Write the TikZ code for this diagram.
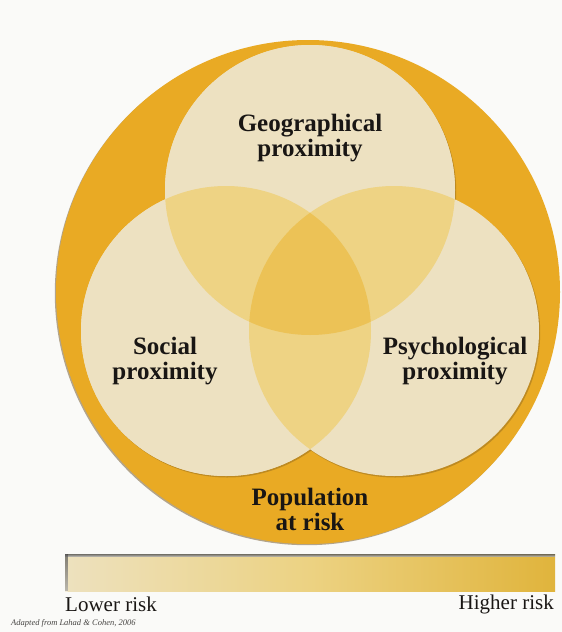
\documentclass[tikz,border=0pt]{standalone}
\usepackage{fontspec}
\setmainfont{Liberation Serif}
\usetikzlibrary{shadows}
\definecolor{bg}{RGB}{250,250,248}
\definecolor{orng}{RGB}{233,170,36}
\definecolor{beige}{RGB}{237,225,193}
\definecolor{pair}{RGB}{238,211,132}
\definecolor{triple}{RGB}{236,194,86}
\definecolor{barL}{RGB}{237,225,190}
\definecolor{barM}{RGB}{236,210,130}
\definecolor{barR}{RGB}{224,180,60}
\definecolor{ink}{RGB}{25,22,20}
\definecolor{shade}{RGB}{110,80,30}
\begin{document}
\begin{tikzpicture}[x=1pt,y=-1pt,
  lbl/.style={font=\fontsize{25}{25}\selectfont\bfseries, align=center, text=ink, inner sep=0pt},
  risk/.style={font=\fontsize{21}{23}\selectfont, text=ink, inner sep=0pt},
  venn/.style={fill=beige, drop shadow={opacity=0.35, fill=shade, shadow xshift=1.2pt, shadow yshift=-1.5pt}}]
\fill[bg] (0,0) rectangle (562,632);
\useasboundingbox (0,0) rectangle (562,632);
% population circle
\fill[orng, drop shadow={opacity=0.5, fill=shade, shadow xshift=-1.2pt, shadow yshift=-1.2pt}] (308,292) circle[radius=252pt];
% three circles
\fill[venn] (310,190) circle[radius=145pt];
\fill[venn] (226,331) circle[radius=145pt];
\fill[venn] (394,331) circle[radius=145pt];
\fill[beige] (310,190) circle[radius=145pt];
\fill[beige] (226,331) circle[radius=145pt];
% pairwise overlaps
\begin{scope}
  \clip (310,190) circle[radius=145pt];
  \fill[pair] (226,331) circle[radius=145pt];
  \fill[pair] (394,331) circle[radius=145pt];
\end{scope}
\begin{scope}
  \clip (226,331) circle[radius=145pt];
  \fill[pair] (394,331) circle[radius=145pt];
\end{scope}
% triple overlap
\begin{scope}
  \clip (310,190) circle[radius=145pt];
  \clip (226,331) circle[radius=145pt];
  \fill[triple] (394,331) circle[radius=145pt];
\end{scope}
% labels
\node[lbl] (geo) at (310,138) {Geographical\\proximity};
\node[lbl] (soc) at (165,361) {Social\\proximity};
\node[lbl] (psy) at (455,361) {Psychological\\proximity};
\node[lbl] (pop) at (310,509) {Population\\at risk};
% risk bar
\shade[left color=barL, right color=barR, middle color=barM] (65,554) rectangle (555,591);
\fill[shade, opacity=0.6] (65,554) rectangle (555,556.5);
\fill[shade, opacity=0.45] (65,554) rectangle (67.5,591);
\node[risk, anchor=west] (low) at (65,604) {Lower risk};
\node[risk, anchor=east] (high) at (554,604) {Higher risk};
\node[font=\fontsize{8.5}{10}\selectfont\itshape, text=ink!80, anchor=west, inner sep=0pt] (src) at (11,623) {Adapted from Lahad \& Cohen, 2006};
\end{tikzpicture}
\end{document}
